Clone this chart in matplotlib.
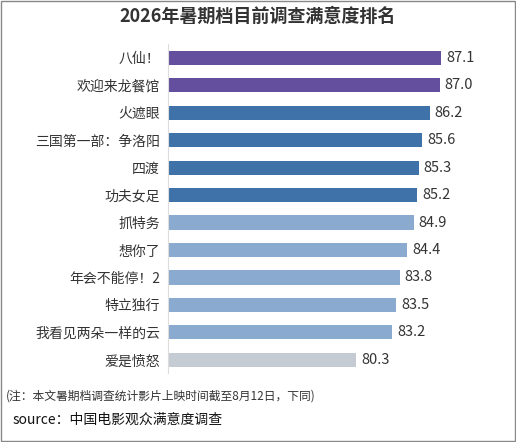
import matplotlib
matplotlib.use("Agg")
from matplotlib import pyplot as plt

plt.rcParams['font.family'] = ['Noto Sans CJK SC', 'DejaVu Sans']

films = ["八仙！", "欢迎来龙餐馆", "火遮眼", "三国第一部：争洛阳", "四渡", "功夫女足",
         "抓特务", "想你了", "年会不能停！2", "特立独行", "我看见两朵一样的云", "爱是愤怒"]
scores = [87.1, 87.0, 86.2, 85.6, 85.3, 85.2, 84.9, 84.4, 83.8, 83.5, 83.2, 80.3]
colors = ["#634f9e"] * 2 + ["#3e72a8"] * 4 + ["#8aaad0"] * 5 + ["#c5cbd3"]

fig = plt.figure(figsize=(5.16, 4.42), dpi=100)
ax = fig.add_axes([0.326, 0.155, 0.604, 0.745])

y = range(len(films))
ax.barh(y, scores, left=0, color=colors, height=0.52)
for i, s in enumerate(scores):
    ax.text(s + 0.4, i, f"{s:.1f}", va="center", ha="left", fontsize=10.5, color="#333333")

ax.set_xlim(65.3, 90.2)
ax.set_ylim(len(films) - 0.5, -0.5)
ax.set_yticks(list(y))
ax.set_yticklabels(films, fontsize=10, color="#333333")
ax.tick_params(axis="y", length=0, pad=6)
ax.set_xticks([])
for sp in ["top", "right", "bottom"]:
    ax.spines[sp].set_visible(False)
ax.spines["left"].set_color("#dddddd")

fig.text(0.5, 0.962, "2026年暑期档目前调查满意度排名", ha="center", va="center",
         fontsize=13, fontweight="bold", color="#333333")
fig.text(0.012, 0.105, "(注：本文暑期档调查统计影片上映时间截至8月12日，下同)",
         fontsize=8.5, style="italic", color="#333333", va="center")
fig.text(0.025, 0.05, "source：中国电影观众满意度调查", fontsize=10, color="#111111", va="center")

fig.patches.append(plt.Rectangle((0.002, 0.002), 0.996, 0.996, transform=fig.transFigure,
                                 fill=False, edgecolor="#888888", linewidth=1))
fig.savefig("out.png", dpi=100)
